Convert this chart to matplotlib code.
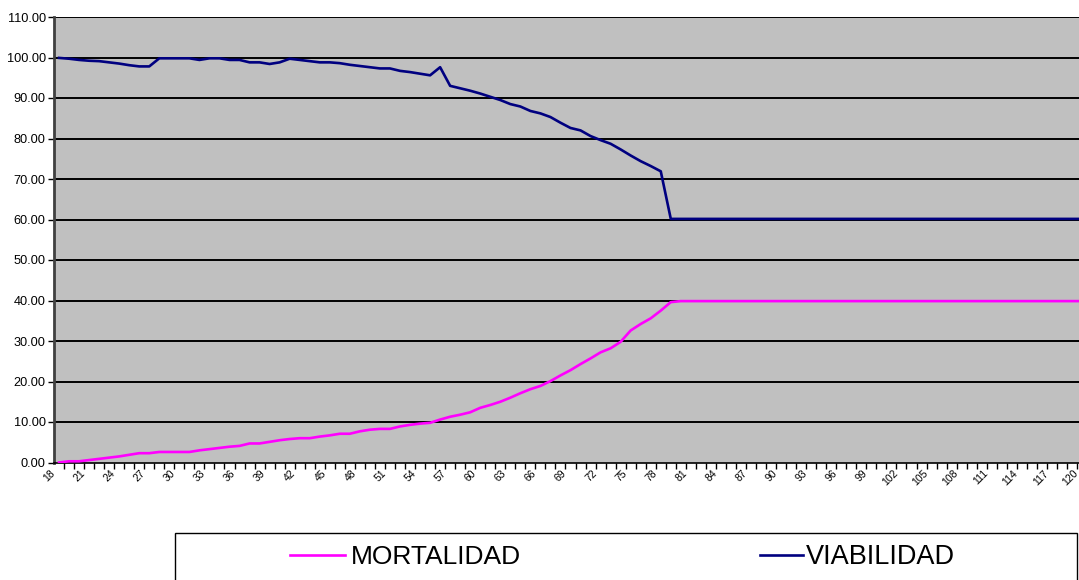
import matplotlib
matplotlib.use("Agg")
import matplotlib.pyplot as plt
from matplotlib.patches import Rectangle
from matplotlib.transforms import ScaledTranslation

plt.rcParams['font.family'] = ['Liberation Sans', 'DejaVu Sans']

ages = list(range(18, 121))

mortalidad = [
    0.0, 0.3, 0.3, 0.6, 0.9, 1.2, 1.5, 1.9, 2.3, 2.3,
    2.6, 2.6, 2.6, 2.6, 3.0, 3.3, 3.6, 3.9, 4.1, 4.7,
    4.7, 5.1, 5.5, 5.8, 6.0, 6.0, 6.4, 6.7, 7.1, 7.1,
    7.7, 8.1, 8.3, 8.3, 8.9, 9.3, 9.6, 9.8, 10.6, 11.3,
    11.8, 12.4, 13.5, 14.2, 15.0, 16.0, 17.1, 18.1, 18.9, 20.1,
    21.5, 22.8, 24.3, 25.7, 27.2, 28.2, 29.8, 32.6, 34.2, 35.6,
    37.5, 39.6, 39.85, 39.85, 39.85, 39.85, 39.85, 39.85, 39.85, 39.85,
    39.85, 39.85, 39.85, 39.85, 39.85, 39.85, 39.85, 39.85, 39.85, 39.85,
    39.85, 39.85, 39.85, 39.85, 39.85, 39.85, 39.85, 39.85, 39.85, 39.85,
    39.85, 39.85, 39.85, 39.85, 39.85, 39.85, 39.85, 39.85, 39.85, 39.85,
    39.85, 39.85, 39.85,
]

viabilidad = [
    99.9, 99.7, 99.4, 99.2, 99.1, 98.8, 98.5, 98.1, 97.8, 97.8,
    99.8, 99.8, 99.8, 99.8, 99.4, 99.8, 99.8, 99.4, 99.4, 98.8,
    98.8, 98.4, 98.8, 99.7, 99.4, 99.1, 98.8, 98.8, 98.6, 98.2,
    97.9, 97.6, 97.3, 97.3, 96.7, 96.4, 96.0, 95.6, 97.6, 93.0,
    92.4, 91.8, 91.1, 90.3, 89.5, 88.5, 87.9, 86.8, 86.2, 85.3,
    83.9, 82.6, 82.0, 80.6, 79.6, 78.7, 77.3, 75.8, 74.4, 73.2,
    71.9, 60.15, 60.15, 60.15, 60.15, 60.15, 60.15, 60.15, 60.15, 60.15,
    60.15, 60.15, 60.15, 60.15, 60.15, 60.15, 60.15, 60.15, 60.15, 60.15,
    60.15, 60.15, 60.15, 60.15, 60.15, 60.15, 60.15, 60.15, 60.15, 60.15,
    60.15, 60.15, 60.15, 60.15, 60.15, 60.15, 60.15, 60.15, 60.15, 60.15,
    60.15, 60.15, 60.15,
]

y_ticks = [0, 10, 20, 30, 40, 50, 60, 70, 80, 90, 100, 110]

W, H = 1079, 580
fig = plt.figure(figsize=(W / 100, H / 100), dpi=100)
ax = fig.add_axes([54 / W, (H - 462.5) / H, 1033 / W, (462.5 - 17) / H])
ax.set_facecolor('#C0C0C0')

x = list(range(len(ages)))
l_m, = ax.plot(x, mortalidad, color='#FF00FF', lw=1.9, solid_joinstyle='round', zorder=3)
l_v, = ax.plot(x, viabilidad, color='#000080', lw=1.9, solid_joinstyle='round', zorder=3)

ax.set_xlim(-0.5, len(ages) - 0.5)
ax.set_ylim(0, 110)
ax.set_yticks(y_ticks)
ax.set_yticklabels([f"{v:.2f}" for v in y_ticks], fontsize=9.2)
for v in y_ticks[1:]:
    ax.axhline(v, color='black', lw=1.4, zorder=2)

# category labels every 3rd, tick marks between categories
lab_idx = list(range(0, len(ages), 3))
ax.set_xticks(lab_idx)
ax.set_xticklabels([str(ages[i]) for i in lab_idx], rotation=45, ha='right',
                   rotation_mode='anchor', fontsize=7.5)
ax.tick_params(axis='x', which='major', length=0, pad=4)
offset = ScaledTranslation(-9 / 100, 0, fig.dpi_scale_trans)
for lbl in ax.get_xticklabels():
    lbl.set_transform(lbl.get_transform() + offset)
ax.set_xticks([i + 0.5 for i in range(len(ages))], minor=True)
ax.tick_params(axis='x', which='minor', length=4, width=1, color='black', direction='out')
ax.tick_params(axis='y', length=4, width=1, color='black', direction='out', pad=2)

for s in ['top', 'right']:
    ax.spines[s].set_visible(False)
ax.spines['left'].set_color('#404040')
ax.spines['left'].set_linewidth(2)
ax.spines['bottom'].set_color('black')
ax.spines['bottom'].set_linewidth(1.2)

# legend box
fig.patches.append(Rectangle((175 / W, -0.05), (1077 - 175) / W, (H - 533) / H + 0.05,
                             transform=fig.transFigure, facecolor='white',
                             edgecolor='black', lw=1))
fig.legend([l_m], ['MORTALIDAD'], loc='center left', bbox_to_anchor=(290 / W, (H - 557) / H),
           frameon=False, fontsize=19, handlelength=2.1, handletextpad=0.2,
           borderpad=0, borderaxespad=0)
fig.legend([l_v], ['VIABILIDAD'], loc='center left', bbox_to_anchor=(760 / W, (H - 557) / H),
           frameon=False, fontsize=19.5, handlelength=1.6, handletextpad=0.1,
           borderpad=0, borderaxespad=0)

fig.savefig('out.png', dpi=100)
